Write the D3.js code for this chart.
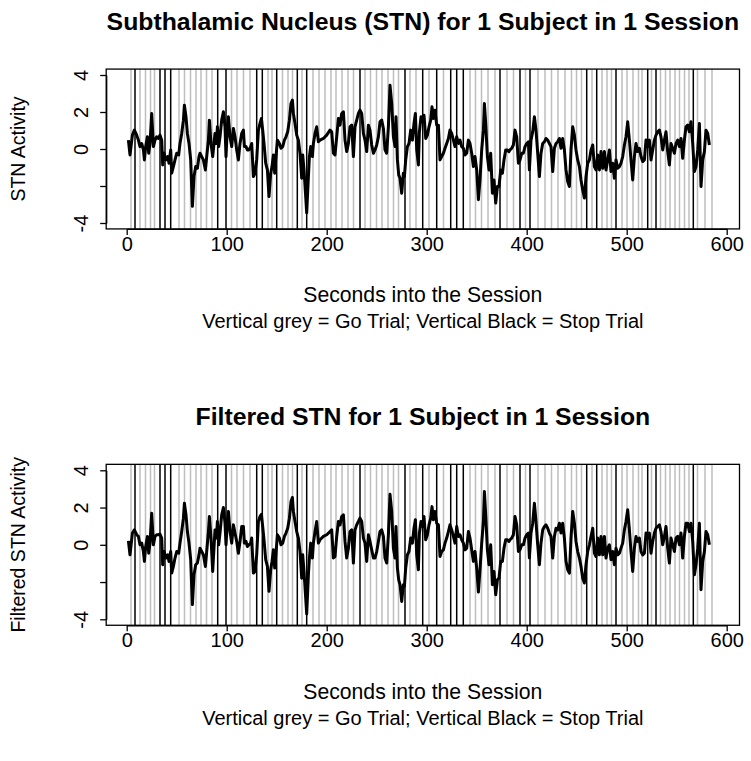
<!DOCTYPE html>
<html><head><meta charset="utf-8">
<script src="https://cdn.jsdelivr.net/npm/d3@7"></script>
<style>
body{margin:0;background:#fff}
text{font-family:"Liberation Sans",Arial,Helvetica,sans-serif;fill:#000}
</style>
</head><body>
<svg id="chart" width="751" height="761"></svg>
<script>
// ---------- data ----------
const seconds = [
 1.7,3.3,5.7,7.7,10.0,11.7,13.3,15.0,16.7,17.7,
 19.0,20.7,22.0,23.3,25.0,26.7,28.3,30.0,31.7,33.3,
 35.0,36.0,37.3,39.3,41.0,42.3,44.0,45.0,46.7,48.3,
 50.0,52.0,53.3,55.0,56.7,57.7,59.3,60.7,62.3,64.0,
 65.7,67.3,69.0,70.7,72.3,73.3,75.0,76.7,78.7,80.0,
 81.7,82.7,84.3,86.0,88.3,89.7,90.7,92.0,93.3,95.0,
 96.7,98.3,99.3,100.7,101.7,103.3,105.0,106.7,108.3,110.0,
 111.7,113.3,115.0,116.7,117.7,119.3,120.7,122.3,124.0,125.0,
 126.7,128.3,130.0,131.7,133.3,134.7,136.0,137.3,139.0,140.7,
 142.3,144.0,145.3,146.7,148.0,149.0,150.7,152.7,154.3,156.0,
 157.7,159.3,161.0,162.7,164.3,165.7,166.7,168.3,170.0,171.7,
 173.3,175.0,176.0,177.3,179.0,180.0,181.7,182.7,184.0,185.7,
 186.7,188.3,190.0,191.7,193.3,
 196.7,200.0,203.3,205.0,206.7,208.3,210.0,211.7,213.3,215.0,
 216.7,218.3,220.0,221.7,223.3,225.0,226.7,228.3,230.0,231.7,
 233.3,235.0,236.7,238.3,240.0,241.7,243.3,245.0,246.7,248.3,
 250.0,251.7,253.3,255.0,256.7,258.3,260.0,261.7,263.3,265.0,
 266.7,268.3,269.3,270.7,272.0,273.3,275.0,276.7,277.7,279.0,
 280.7,282.3,284.0,285.7,287.3,288.7,290.0,291.7,292.7,294.3,
 296.0,297.3,299.0,300.7,302.3,304.0,305.3,306.7,308.3,310.0,
 311.7,313.3,315.0,316.7,318.3,320.0,321.7,323.3,325.0,326.7,
 328.3,330.0,331.7,333.3,335.0,336.7,338.3,340.0,341.7,343.3,
 345.0,346.7,348.3,350.0,351.7,353.3,355.0,356.7,357.7,359.0,
 360.7,362.3,364.0,365.7,367.3,369.0,370.7,372.3,374.0,375.7,
 377.3,379.0,380.7,382.3,383.3,385.0,386.7,388.3,390.0,391.7,
 393.3,395.0,396.7,398.3,400.0,401.7,
 402.7,404.3,406.0,407.7,409.3,411.0,412.7,414.3,416.0,417.7,
 419.3,421.0,422.7,424.3,426.0,427.7,429.3,431.0,432.7,434.3,
 436.0,437.7,439.3,441.0,442.7,444.3,446.0,447.7,449.3,451.0,
 452.7,454.3,456.0,457.7,459.3,461.0,462.7,464.3,466.0,467.7,
 469.3,471.0,472.7,474.3,476.0,477.7,479.3,481.0,482.7,484.3,
 486.0,487.7,489.3,491.0,492.7,494.3,496.0,497.7,499.3,501.0,
 502.7,504.3,506.0,507.7,509.3,511.0,512.7,514.3,516.0,517.7,
 519.3,521.0,522.7,524.3,526.0,527.7,529.3,531.0,532.7,534.3,
 536.0,537.7,539.3,541.0,542.7,544.3,546.0,547.7,549.3,551.0,
 552.7,554.3,556.0,557.7,559.3,561.0,562.7,564.3,566.0,567.7,
 569.3,571.0,572.7,574.3,576.0,577.7,579.3,581.0,582.7
];

const stnActivity = [
 0.48,-0.32,0.75,1.02,0.75,0.48,0.13,0.30,-0.05,-0.59,
 0.13,0.66,-0.23,0.30,1.92,0.13,0.48,0.66,0.57,0.75,
 0.48,-0.86,-0.23,-0.59,-0.41,-0.77,-0.05,-1.31,-0.95,-0.59,
 -0.23,-0.32,0.30,0.84,1.56,2.37,1.74,0.84,0.30,-0.59,
 -3.10,-1.49,-0.95,-1.04,-0.41,-0.23,-0.41,-0.59,-1.13,-0.41,
 0.48,1.56,0.30,-0.41,0.84,0.30,1.20,0.13,0.66,1.56,
 2.01,1.20,-0.41,1.20,1.74,0.66,0.13,1.11,0.66,-0.05,
 -0.59,0.30,0.84,1.02,0.13,0.13,-0.05,-0.05,0.13,0.30,
 -1.49,-1.31,-0.59,1.02,1.38,1.65,1.02,0.30,-0.77,-1.13,
 -2.57,-1.31,-0.95,-0.32,-1.31,-0.59,0.48,0.30,0.04,0.13,
 0.48,0.66,0.93,1.56,2.46,2.64,1.92,1.38,0.75,0.48,
 -0.23,-1.58,-0.32,-1.13,-2.57,-3.46,-1.49,-0.41,0.13,-0.41,
 0.30,0.84,1.20,0.39,0.48,
 0.57,0.75,1.02,0.93,-0.23,-0.32,0.66,1.65,1.29,1.92,
 2.01,0.48,-0.14,0.30,1.20,1.29,-0.41,1.20,1.56,1.92,
 2.10,1.92,0.84,0.48,-0.14,1.29,1.02,0.22,-0.23,-0.05,
 0.22,0.66,1.47,1.56,1.11,-0.05,-0.23,1.20,3.44,2.46,
 0.66,0.13,1.74,-0.59,-1.40,-1.58,-2.39,-1.31,-1.49,-0.59,
 0.13,0.30,1.02,0.48,1.38,1.92,-0.05,-0.86,0.93,1.74,
 1.47,1.83,0.57,0.75,1.20,1.56,2.28,1.65,2.10,1.29,
 1.29,-0.59,-0.41,-0.23,0.04,0.30,0.57,1.02,0.84,0.48,
 0.13,0.66,0.30,0.48,0.13,0.04,-0.32,-0.23,0.48,0.30,
 -0.23,-0.95,-0.41,-1.13,-2.74,-1.67,-0.05,1.02,2.46,1.38,
 -0.41,-1.13,-0.23,-2.39,-1.67,-2.92,-2.03,-2.03,-1.13,-1.31,
 -0.59,-0.05,-0.05,-0.14,-0.05,0.04,0.22,1.02,0.66,-0.77,
 -0.59,-0.23,-0.23,0.13,0.30,0.39,
 -1.13,0.48,0.93,1.74,1.02,-0.23,-1.49,-0.23,0.30,0.39,
 0.57,0.48,0.30,0.13,-1.22,0.04,0.30,0.39,0.57,0.04,
 0.57,-0.05,-1.13,-1.76,-2.03,-0.05,1.20,0.75,-0.05,-0.59,
 -0.95,-1.67,-2.21,-2.65,-1.49,-0.77,-0.59,-0.05,0.22,-0.95,
 -1.13,-0.32,-1.13,-0.14,-1.04,-0.14,-1.13,-0.59,-0.05,-1.22,
 -0.77,-1.58,-0.59,-1.04,-0.95,-0.77,-0.41,0.22,0.66,1.47,
 0.48,-0.59,-1.67,-0.41,0.30,-0.14,0.04,-0.41,-0.68,-0.59,
 0.48,0.13,0.48,-0.59,-0.05,0.48,0.75,0.93,1.02,0.66,
 -0.05,0.48,0.93,-0.14,-0.86,0.30,0.04,-0.23,0.30,0.48,
 0.13,0.57,-0.50,0.48,1.20,1.29,0.93,1.47,0.30,-1.22,
 -0.95,-0.05,1.38,-2.03,-0.59,-0.14,1.02,0.84,0.22
];

const filteredActivity = [
 0.21,-0.54,0.63,0.80,0.54,0.45,0,0.09,-0.36,-0.89,
 -0.09,0.45,-0.45,0.09,1.70,0,0.45,0.54,0.54,0.57,
 0.36,-1.07,-0.36,-0.71,-0.54,-0.89,-0.36,-1.52,-1.16,-0.71,
 -0.36,-0.45,0.09,0.71,1.43,2.23,1.61,0.71,0.09,-0.80,
 -3.21,-1.61,-1.07,-0.98,-0.54,-0.18,-0.36,-0.54,-1.16,-0.36,
 0.71,1.52,0.36,-1.43,0.80,0.36,1.25,0,0.63,1.61,
 2.00,1.16,0,1.25,1.79,0.71,0.09,1.07,0.63,0.18,
 -0.45,0.18,0.98,0.98,0.09,0.18,-0.09,0,0.09,0.36,
 -1.52,-1.43,-0.54,1.25,1.52,1.64,0.98,0.27,-0.80,-1.16,
 -2.50,-1.34,-0.89,-0.27,-1.25,-0.63,0.54,0.36,0,0.09,
 0.45,0.63,0.89,1.43,2.32,2.54,1.79,1.25,0.71,0.36,
 -0.36,-1.79,-0.54,-1.43,-2.86,-3.71,-1.61,-0.71,0.09,-0.71,
 0.09,0.71,1.25,0.09,0.27,
 0.45,0.54,0.71,0.80,-0.71,-0.63,0.45,1.25,1.07,1.52,
 1.61,0.18,-0.71,-0.18,0.71,0.80,-0.98,0.80,1.07,1.25,
 1.43,1.25,0.36,0.09,-0.89,0.54,0.18,-0.27,-0.71,-0.71,
 -0.36,0.18,0.71,0.80,0.45,-0.71,-0.98,0.54,2.71,1.79,
 -0.18,-0.71,0.98,-1.25,-1.88,-2.14,-3.04,-2.14,-2.23,-1.25,
 -0.54,-0.36,0.36,0.09,0.89,1.34,-0.54,-1.34,0.63,1.25,
 0.98,1.52,0.27,0.54,1.07,1.43,2.05,1.34,1.79,1.16,
 1.07,-0.63,-0.36,-0.27,0.09,0.36,0.71,1.07,0.80,0.45,
 0.09,0.98,0.45,0.54,0.27,0.09,-0.27,-0.18,0.71,0.36,
 -0.27,-0.89,-0.36,-1.25,-2.54,-1.34,0.09,1.25,2.86,1.61,
 -0.27,-1.07,0,-2.14,-1.43,-2.68,-1.88,-1.79,-0.89,-0.89,
 -0.18,0.27,0.27,0.18,0.27,0.36,0.54,1.52,1.07,-0.36,
 -0.27,0,0,0.36,0.54,0.63,
 -0.71,0.63,1.16,2.23,1.25,0,-1.07,0.09,0.80,0.98,
 1.07,0.89,0.63,0.45,-0.71,0.45,0.89,0.80,1.16,0.63,
 1.16,0.36,-0.89,-1.34,-1.52,0.36,1.79,1.16,0.18,-0.36,
 -0.71,-1.16,-1.79,-2.05,-1.07,-0.36,0,0.45,0.89,-0.45,
 -0.63,0.36,-0.54,0.45,-0.54,0.45,-0.71,-0.18,0,-0.80,
 -0.36,-1.07,-0.18,-0.54,-0.45,-0.18,0.09,0.80,1.25,1.88,
 0.80,-0.36,-1.43,-0.18,0.45,0.18,0.36,-0.36,-0.54,-0.45,
 0.63,0.36,0.63,-0.45,0.18,0.63,0.89,0.98,1.07,0.71,
 0,0.45,0.98,-0.18,-0.98,0.36,0,-0.36,0.36,0.45,
 0,0.63,-0.71,0.45,1.16,1.16,0.71,1.16,0.18,-1.61,
 -1.07,-0.18,1.16,-2.41,-0.89,-0.36,0.71,0.54,0
];

// trial onsets (seconds)
const goTrials = [
 4.3,13.3,18.8,23.8,27.8,52.3,57.8,63.8,69.3,74.3,79.8,85.3,
 104.8,110.3,116.8,123.3,141.3,145.3,155.8,161.3,165.8,175.3,
 186.3,192.3,198.3,204.3,209.3,215.3,221.3,226.8,238.3,243.8,
 249.8,255.3,261.3,266.8,271.8,283.3,289.3,302.3,316.8,343.3,
 348.8,354.8,361.3,368.3,380.3,386.8,398.8,411.3,418.3,424.8,
 431.3,438.3,444.8,449.8,454.8,465.3,475.3,480.3,484.8,495.3,
 500.3,506.3,511.8,515.3,524.8,533.8,538.8,543.3,548.3,552.8,
 557.8,562.3,570.8,578.3,585.3
];
const stopTrials = [
 8.3,33.3,38.3,44.0,91.0,99.3,130.0,135.6,150.0,170.6,180.0,
 233.3,278.3,296.0,310.0,324.0,330.0,336.6,373.3,393.3,403.3,
 460.0,470.0,489.3,521.0,529.3,566.6
];

const xTicks = [0,100,200,300,400,500,600];
const yTicks = [-4,-2,0,2,4];
const yTickLabels = ["-4","","0","2","4"];   // "-2" label is dropped in the original

const panelTitles = ["Subthalamic Nucleus (STN) for 1 Subject in 1 Session",
                     "Filtered STN for 1 Subject in 1 Session"];
const panelYLabels = ["STN Activity","Filtered STN Activity"];
const xLabel = "Seconds into the Session";
const subLabel = "Vertical grey = Go Trial; Vertical Black = Stop Trial";

// ---------- drawing ----------
const svg = d3.select("#chart");
svg.append("rect").attr("width",751).attr("height",761).attr("fill","#fff");

const x = d3.scaleLinear().domain([0,600]).range([126.7,726.7]);
const boxL = x(-20.5), boxR = x(612.8);
const cx = (boxL + boxR) / 2;

const panels = [
  {title: panelTitles[0], ylab: panelYLabels[0], values: stnActivity, yRange: [223, 75]},
  {title: panelTitles[1], ylab: panelYLabels[1], values: filteredActivity, yRange: [619.3, 470.3]}
];

const BASE = 20;

panels.forEach(p => {
  const y = d3.scaleLinear().domain([-4,4]).range(p.yRange);
  const boxT = y(4.32), boxB = y(-4.32);
  const g = svg.append("g");

  // trial lines
  g.selectAll("line.go").data(goTrials).join("line")
    .attr("x1", d => x(d)).attr("x2", d => x(d))
    .attr("y1", boxT).attr("y2", boxB)
    .attr("stroke", "#bebebe").attr("stroke-width", 1.5);
  g.selectAll("line.stop").data(stopTrials).join("line")
    .attr("x1", d => x(d)).attr("x2", d => x(d))
    .attr("y1", boxT).attr("y2", boxB)
    .attr("stroke", "#000").attr("stroke-width", 1.5);

  // series
  const pts = seconds.map((s, i) => [s, p.values[i]]);
  g.append("path").datum(pts)
    .attr("fill", "none").attr("stroke", "#000").attr("stroke-width", 3)
    .attr("stroke-linejoin", "round")
    .attr("d", d3.line().x(d => x(d[0])).y(d => y(d[1])));

  // box
  g.append("rect").attr("x", boxL).attr("y", boxT)
    .attr("width", boxR - boxL).attr("height", boxB - boxT)
    .attr("fill", "none").attr("stroke", "#000").attr("stroke-width", 1.3);

  // x axis
  const ax = g.append("g").attr("transform", `translate(0,${boxB})`)
    .call(d3.axisBottom(x).tickValues(xTicks).tickFormat(d3.format("d"))
      .tickSize(6).tickSizeOuter(0).tickPadding(2));
  ax.selectAll("path,line").attr("stroke", "#000").attr("stroke-width", 1.3);
  ax.selectAll("text").attr("font-size", BASE).attr("fill", "#000")
    .style("font-family", '"Liberation Sans",Arial,sans-serif');

  // y axis
  const ay = g.append("g").attr("transform", `translate(${boxL},0)`)
    .call(d3.axisLeft(y).tickValues(yTicks)
      .tickFormat((d, i) => yTickLabels[i]).tickSize(6).tickSizeOuter(0));
  ay.selectAll("path,line").attr("stroke", "#000").attr("stroke-width", 1.3);
  ay.selectAll("text").attr("font-size", BASE).attr("fill", "#000")
    .style("font-family", '"Liberation Sans",Arial,sans-serif')
    .attr("text-anchor", "middle").attr("dy", null)
    .attr("x", 0).attr("y", -18)
    .attr("transform", "rotate(-90)");

  // title
  g.append("text").attr("x", cx).attr("y", boxT - 39.5)
    .attr("text-anchor", "middle").attr("font-weight", "bold")
    .attr("font-size", 24.8).text(p.title);

  // x labels
  g.append("text").attr("x", cx).attr("y", boxB + 73.5)
    .attr("text-anchor", "middle").attr("font-size", 21.2).text(xLabel);
  g.append("text").attr("x", cx).attr("y", boxB + 99.5)
    .attr("text-anchor", "middle").attr("font-size", BASE).text(subLabel);

  // y label
  g.append("text")
    .attr("transform", `translate(25,${(boxT + boxB) / 2}) rotate(-90)`)
    .attr("text-anchor", "middle").attr("font-size", 19.5).text(p.ylab);
});
</script>
</body></html>
